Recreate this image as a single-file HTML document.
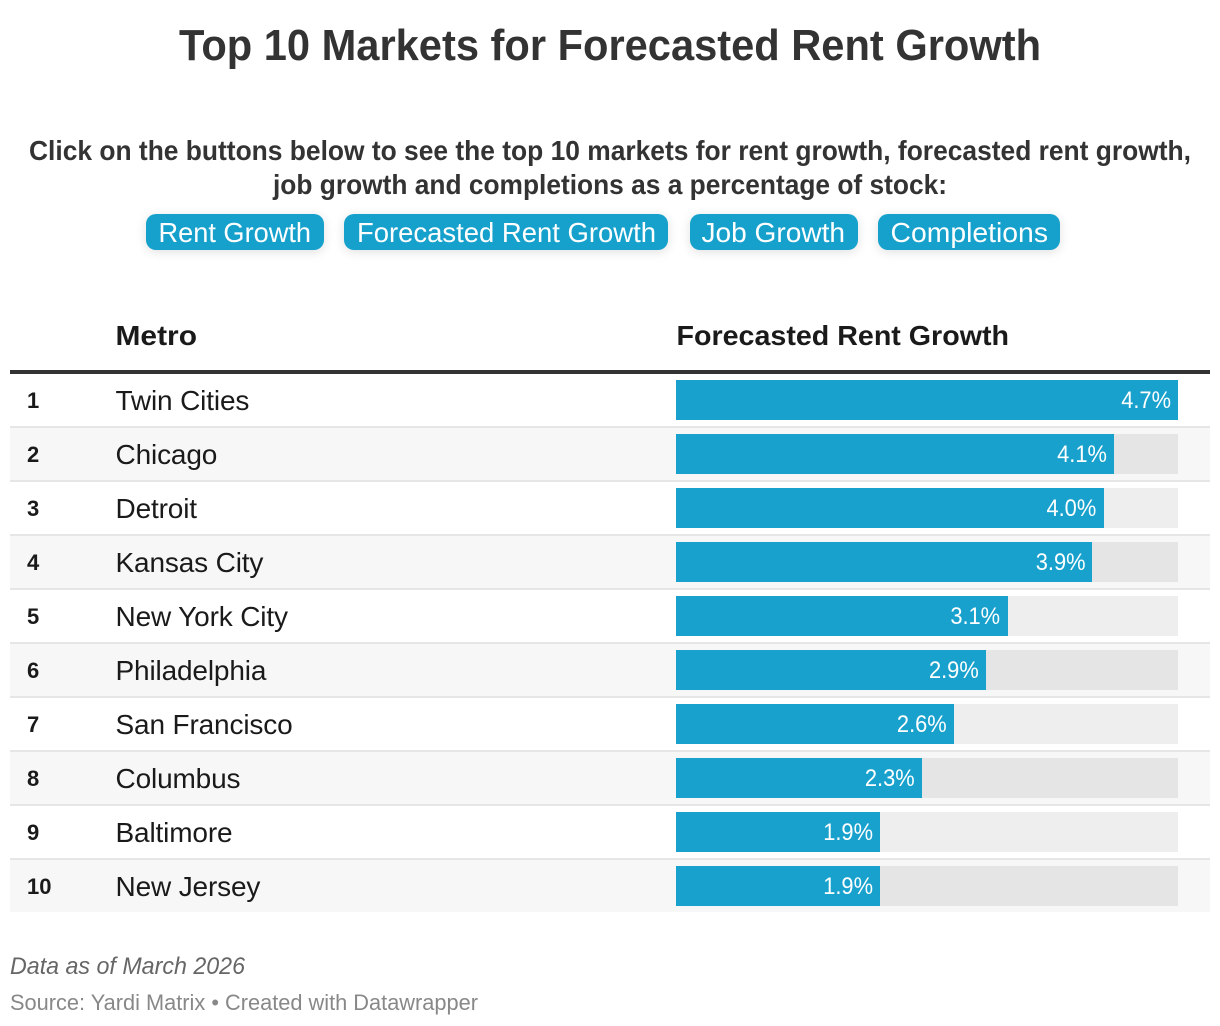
<!DOCTYPE html>
<html lang="en">
<head>
<meta charset="utf-8">
<title>Top 10 Markets for Forecasted Rent Growth</title>
<style>
html,body{margin:0;padding:0;background:#fff;width:1220px;height:1026px;overflow:hidden}
svg{display:block;font-family:"Liberation Sans",Arial,sans-serif}
.btn{cursor:pointer}
</style>
</head>
<body>
<svg id="chart" xmlns="http://www.w3.org/2000/svg" width="1220" height="1026" viewBox="0 0 1220 1026">
  <defs>
    <filter id="btnShadow" x="-20%" y="-50%" width="140%" height="200%">
      <feDropShadow dx="0" dy="2" stdDeviation="5" flood-color="#000" flood-opacity="0.12"/>
    </filter>
  </defs>
  <text x="179" y="60" font-size="44" font-weight="700" fill="#333" textLength="862" lengthAdjust="spacingAndGlyphs">Top 10 Markets for Forecasted Rent Growth</text>
  <text x="29" y="160" font-size="28" font-weight="700" fill="#333" textLength="1162" lengthAdjust="spacingAndGlyphs">Click on the buttons below to see the top 10 markets for rent growth, forecasted rent growth,</text>
  <text x="273" y="194" font-size="28" font-weight="700" fill="#333" textLength="674" lengthAdjust="spacingAndGlyphs">job growth and completions as a percentage of stock:</text>

  <g class="btn">
    <rect x="146" y="214" width="178" height="36" rx="10" fill="#18a1cd" filter="url(#btnShadow)"/>
    <text x="158.5" y="242" font-size="28" fill="#fff" textLength="152.5" lengthAdjust="spacingAndGlyphs">Rent Growth</text>
  </g>
  <g class="btn">
    <rect x="344" y="214" width="324" height="36" rx="10" fill="#18a1cd" filter="url(#btnShadow)"/>
    <text x="357" y="242" font-size="28" fill="#fff" textLength="299" lengthAdjust="spacingAndGlyphs">Forecasted Rent Growth</text>
  </g>
  <g class="btn">
    <rect x="690" y="214" width="168" height="36" rx="10" fill="#18a1cd" filter="url(#btnShadow)"/>
    <text x="701.5" y="242" font-size="28" fill="#fff" textLength="143.5" lengthAdjust="spacingAndGlyphs">Job Growth</text>
  </g>
  <g class="btn">
    <rect x="878" y="214" width="182" height="36" rx="10" fill="#18a1cd" filter="url(#btnShadow)"/>
    <text x="890.5" y="242" font-size="28" fill="#fff" textLength="157.5" lengthAdjust="spacingAndGlyphs">Completions</text>
  </g>

  <text x="115.5" y="345" font-size="28" font-weight="700" fill="#1a1a1a" textLength="81.5" lengthAdjust="spacingAndGlyphs">Metro</text>
  <text x="676.5" y="345" font-size="28" font-weight="700" fill="#1a1a1a" textLength="332.5" lengthAdjust="spacingAndGlyphs">Forecasted Rent Growth</text>
  <rect x="10" y="370" width="1200" height="4" fill="#333"/>

  <g id="rows"></g>

  <text x="10" y="974" font-size="24" font-style="italic" fill="#666" textLength="235" lengthAdjust="spacingAndGlyphs">Data as of March 2026</text>
  <text x="10" y="1010" font-size="22" fill="#888" textLength="468" lengthAdjust="spacingAndGlyphs">Source: Yardi Matrix • Created with Datawrapper</text>
</svg>
<script>
var metros = ["Twin Cities","Chicago","Detroit","Kansas City","New York City","Philadelphia","San Francisco","Columbus","Baltimore","New Jersey"];
var growth = [4.7,4.1,4.0,3.9,3.1,2.9,2.6,2.3,1.91,1.91];

var SVGNS = "http://www.w3.org/2000/svg";
var rowsGroup = document.getElementById("rows");
var domainMax = Math.max.apply(null, growth);
function rawX(v){ return 502 * v / domainMax; }
function xScale(v){ return Math.round(rawX(v) / 2) * 2; }
function rowTop(i){ return 374 + 54 * i; }

function make(tag, attrs, parent, text){
  var el = document.createElementNS(SVGNS, tag);
  for (var k in attrs) el.setAttribute(k, attrs[k]);
  if (text !== undefined) el.textContent = text;
  parent.appendChild(el);
  return el;
}

metros.forEach(function(name, i){
  var top = rowTop(i);
  var even = i % 2 === 1;
  var g = make("g", {}, rowsGroup);
  
  

  var bg = make("rect", {x:10, y:top, width:1200, height:52, fill: even ? "#f7f7f7" : "#ffffff"}, g);
  
  

  if (i < metros.length - 1) {
    var sep = make("rect", {x:10, y:top + 52, width:1200, height:2, fill:"#e6e6e6"}, g);
    
    
  }

  var rank = make("text", {x:27, y:top + 34, "font-size":22, "font-weight":700, fill:"#1a1a1a"}, g, String(i + 1));
  
  

  var label = make("text", {x:115.5, y:top + 36, "font-size":28, "letter-spacing":-0.15, fill:"#1a1a1a"}, g, name);
  
  

  var track = make("rect", {x:676, y:top + 6, width:xScale(domainMax), height:40, fill: even ? "#e5e5e5" : "#eeeeee"}, g);
  
  

  var bar = make("rect", {x:676, y:top + 6, width:xScale(growth[i]), height:40, fill:"#18a1cd"}, g);
  
  

  var val = make("text", {x:676 + rawX(growth[i]) - 7, y:top + 34, "font-size":24, fill:"#fff", "text-anchor":"end", lengthAdjust:"spacingAndGlyphs"}, g, growth[i].toFixed(1) + "%");
  val.setAttribute("textLength", val.getComputedTextLength() * 0.91);
  
  
});
</script>
</body>
</html>
